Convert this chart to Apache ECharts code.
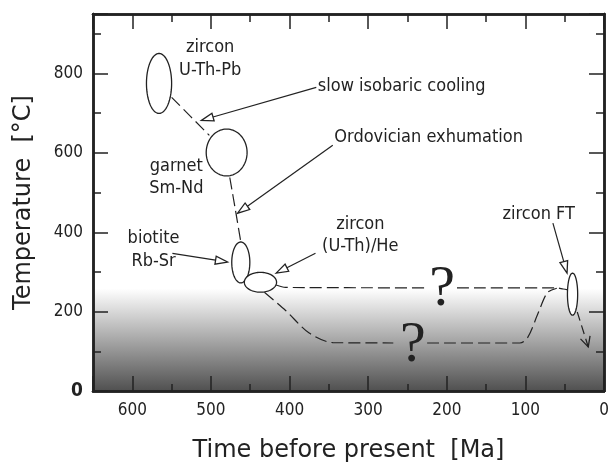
<!DOCTYPE html>
<html><head><meta charset="utf-8">
<script src="https://cdn.jsdelivr.net/npm/echarts@6/dist/echarts.min.js"></script>
<style>html,body{margin:0;padding:0;background:#fff}#c{width:613px;height:462px}</style>
</head><body><div id="c"></div>
<script>
// ---- data (age in Ma, temperature in °C) ----
const xTickLabels = [0, 100, 200, 300, 400, 500, 600];
const yTickLabels = [0, 200, 400, 600, 800];
const shadeTop = 258; // temperature where the grey shading starts

// ellipses: [age, temperature, width (Ma), height (°C)]
const ellipses = [
  [566, 775, 32, 151],  // zircon U-Th-Pb
  [480, 601, 52, 118],  // garnet Sm-Nd
  [462, 324, 23, 103],  // biotite Rb-Sr
  [437, 274, 41, 50],   // zircon (U-Th)/He
  [40, 244, 13, 106]    // zircon FT
];

// dashed cooling paths
const pathZirconGarnet = [[550, 740], [502, 644]];
const pathGarnetBiotite = [[476, 538], [469, 458], [462, 376]];
const pathUpperA = [[417, 267], [405, 261], [225, 260]];
const pathUpperB = [[187, 260], [60, 260], [52, 257], [46, 255]];
const pathLowerA = [[432, 249], [405, 203], [375, 146], [345, 122], [268, 121]];
const pathLowerB = [[225, 121], [107, 121], [97, 135], [84, 195], [72, 248], [60, 259]];
const pathExit = [[34, 199], [20, 111]];

// annotation arrows: [fromAge, fromT, toAge, toT]
const arrows = [
  [366, 765, 512, 682],
  [345, 619, 466, 448],
  [549, 347, 479, 325],
  [367, 347, 417, 297],
  [65, 423, 47, 297]
];

// text labels: [text, age, temperature]
const centerLabels = [
  ['zircon', 501, 865], ['U-Th-Pb', 501, 807],
  ['garnet', 544, 566], ['Sm-Nd', 544, 511],
  ['biotite', 573, 385], ['Rb-Sr', 573, 327],
  ['zircon', 310, 420], ['(U-Th)/He', 310, 365],
  ['zircon FT', 83, 445]
];
const leftLabels = [
  ['slow isobaric cooling', 364, 767],
  ['Ordovician exhumation', 343, 639]
];
const questionMarks = [[206, 254], [243, 113]];

// ---- chart ----
const INK = '#222';
const FONT = 'DejaVu Sans';
const FONT_C = '"DejaVu Sans Condensed", "DejaVu Sans"';

function tickAxis(extra, tickLen) {
  return Object.assign({
    type: 'value', z: 10,
    axisLine: {show: true, onZero: false, lineStyle: {color: INK, width: 2.5}},
    axisTick: {show: true, inside: true, length: tickLen, lineStyle: {color: INK, width: 1.5}},
    axisLabel: {show: false},
    splitLine: {show: false}
  }, extra);
}
const xCommon = {min: 0, max: 650, inverse: true};
const yCommon = {min: 0, max: 950};

const xAxes = [
  tickAxis(Object.assign({}, xCommon, {
    position: 'bottom', interval: 100,
    axisLabel: {show: true, margin: 11, fontSize: 17, fontFamily: FONT_C, color: INK,
      formatter: v => xTickLabels.includes(v) ? String(v) : ''},
    name: 'Time before present  [Ma]', nameLocation: 'middle', nameGap: 48,
    nameTextStyle: {fontSize: 24, fontFamily: FONT, color: INK}
  }), 15),
  tickAxis(Object.assign({}, xCommon, {position: 'bottom', interval: 50}), 7),
  tickAxis(Object.assign({}, xCommon, {position: 'top', interval: 100}), 15),
  tickAxis(Object.assign({}, xCommon, {position: 'top', interval: 50}), 8)
];
const yAxes = [
  tickAxis(Object.assign({}, yCommon, {
    position: 'left', interval: 200,
    axisLabel: {show: true, margin: 10, fontSize: 17, fontFamily: FONT_C, color: INK,
      formatter: v => v === 0 ? '{b|0}' : (yTickLabels.includes(v) ? String(v) : ''),
      rich: {b: {fontSize: 19, fontWeight: 'bold', fontFamily: FONT_C, color: INK}}},
    name: 'Temperature  [°C]', nameLocation: 'middle', nameGap: 57, nameRotate: 90,
    nameTextStyle: {fontSize: 24, fontFamily: FONT, color: INK}
  }), 15),
  tickAxis(Object.assign({}, yCommon, {position: 'left', interval: 100}), 8),
  tickAxis(Object.assign({}, yCommon, {position: 'right', interval: 200}), 15),
  tickAxis(Object.assign({}, yCommon, {position: 'right', interval: 100}), 8)
];

function dashedLine(data) {
  return {
    type: 'line', data: data, xAxisIndex: 0, yAxisIndex: 0, symbol: 'none',
    smooth: 0.3, silent: true, z: 3,
    lineStyle: {color: INK, width: 1.2, type: [12, 5]}
  };
}

function renderEllipse(params, api) {
  const c = api.coord([api.value(0), api.value(1)]);
  const s = api.size([api.value(2), api.value(3)]);
  const rx = Math.abs(s[0]) / 2, ry = Math.abs(s[1]) / 2;
  const pts = [];
  for (let i = 0; i < 90; i++) {
    const a = i / 90 * 2 * Math.PI;
    pts.push([c[0] + rx * Math.cos(a), c[1] + ry * Math.sin(a)]);
  }
  return {type: 'polygon', shape: {points: pts}, style: {fill: '#fff', stroke: INK, lineWidth: 1.3}};
}

function renderArrow(params, api) {
  const p1 = api.coord([api.value(0), api.value(1)]);
  const p2 = api.coord([api.value(2), api.value(3)]);
  const dx = p2[0] - p1[0], dy = p2[1] - p1[1];
  const L = Math.hypot(dx, dy), ux = dx / L, uy = dy / L;
  const hl = 12, hw = 4;
  const base = [p2[0] - ux * hl, p2[1] - uy * hl];
  const l = [base[0] - uy * hw, base[1] + ux * hw];
  const r = [base[0] + uy * hw, base[1] - ux * hw];
  return {type: 'group', children: [
    {type: 'line', shape: {x1: p1[0], y1: p1[1], x2: base[0], y2: base[1]}, style: {stroke: INK, lineWidth: 1.2}},
    {type: 'polygon', shape: {points: [p2, l, r]}, style: {fill: '#fff', stroke: INK, lineWidth: 1.3}}
  ]};
}

function renderExit(params, api) {
  if (params.dataIndex !== 0) return null;
  const p1 = api.coord(pathExit[0]);
  const p2 = api.coord(pathExit[1]);
  const dx = p2[0] - p1[0], dy = p2[1] - p1[1];
  const L = Math.hypot(dx, dy), ux = dx / L, uy = dy / L;
  const hl = 10, hw = 5;
  const base = [p2[0] - ux * hl, p2[1] - uy * hl];
  const l = [base[0] - uy * hw, base[1] + ux * hw];
  const r = [base[0] + uy * hw, base[1] - ux * hw];
  return {type: 'group', children: [
    {type: 'line', shape: {x1: p1[0], y1: p1[1], x2: p2[0], y2: p2[1]}, style: {stroke: INK, lineWidth: 1.2, lineDash: [9, 5]}},
    {type: 'polyline', shape: {points: [l, p2, r]}, style: {stroke: INK, lineWidth: 1.3, fill: null}}
  ]};
}

function textSeries(list, align, font, size) {
  return {
    type: 'custom', xAxisIndex: 0, yAxisIndex: 0, silent: true, z: 6,
    data: list.map(d => [d[d.length - 2], d[d.length - 1]]),
    renderItem: function (params, api) {
      const p = api.coord([api.value(0), api.value(1)]);
      const item = list[params.dataIndex];
      const txt = item.length === 3 ? item[0] : '?';
      return {type: 'text', x: p[0], y: p[1], style: {
        text: txt, fill: INK, fontSize: size, fontFamily: font,
        align: align, verticalAlign: 'middle'}};
    }
  };
}

const chart = echarts.init(document.getElementById('c'), null, {renderer: 'canvas'});
chart.setOption({
  animation: false,
  backgroundColor: '#fff',
  grid: {left: 93, top: 14, right: 9, bottom: 71, containLabel: false, outerBoundsMode: 'none'},
  xAxis: xAxes,
  yAxis: yAxes,
  series: [
    {
      type: 'line', data: [], xAxisIndex: 0, yAxisIndex: 0, z: 1, silent: true,
      markArea: {
        silent: true,
        itemStyle: {color: new echarts.graphic.LinearGradient(0, 0, 0, 1, [
          {offset: 0, color: '#ffffff'}, {offset: 1, color: '#505050'}])},
        data: [[{xAxis: 650, yAxis: shadeTop}, {xAxis: 0, yAxis: 0}]]
      }
    },
    dashedLine(pathZirconGarnet),
    dashedLine(pathGarnetBiotite),
    dashedLine(pathUpperA),
    dashedLine(pathUpperB),
    dashedLine(pathLowerA),
    dashedLine(pathLowerB),
    {type: 'custom', xAxisIndex: 0, yAxisIndex: 0, silent: true, z: 4, data: [pathExit[0]], renderItem: renderExit},
    {type: 'custom', xAxisIndex: 0, yAxisIndex: 0, silent: true, z: 5, data: ellipses, renderItem: renderEllipse},
    {type: 'custom', xAxisIndex: 0, yAxisIndex: 0, silent: true, z: 5, data: arrows, renderItem: renderArrow},
    textSeries(centerLabels, 'center', FONT_C, 18),
    textSeries(leftLabels, 'left', FONT_C, 18),
    textSeries(questionMarks, 'center', 'Liberation Serif', 58)
  ]
});
</script>
</body></html>
